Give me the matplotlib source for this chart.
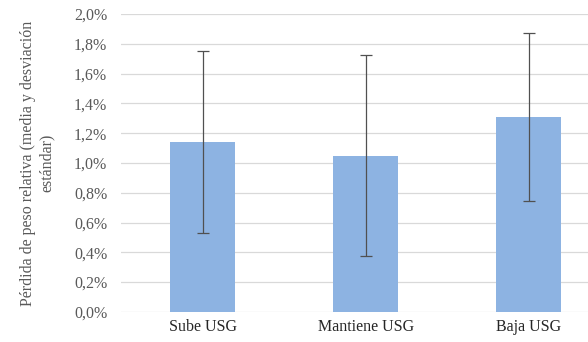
import matplotlib
matplotlib.use("Agg")
import matplotlib.pyplot as plt
from matplotlib.ticker import FuncFormatter, MultipleLocator

# ─── DATA (percent) ──────────────────────────────────────────────────────────
categories = ["Sube USG", "Mantiene USG", "Baja USG"]
means = [1.14, 1.05, 1.31]
sds = [0.61, 0.675, 0.565]

BAR = "#8DB3E2"
GRID = "#D9D9D9"
TEXT = "#595959"

plt.rcParams["font.family"] = ["Liberation Serif", "DejaVu Serif"]

fig = plt.figure(figsize=(5.88, 3.42), dpi=100)
ax = fig.add_axes([0.206, 0.088, 0.794, 0.871])

x = list(range(len(categories)))
ax.bar(x, means, width=0.4, color=BAR, zorder=3)
ax.errorbar(x, means, yerr=sds, fmt="none", ecolor="#505050",
            elinewidth=0.9, capsize=4, capthick=0.9, zorder=4)

ax.set_xlim(-0.5, 2.365)
ax.set_ylim(0, 2.0)
ax.yaxis.set_major_locator(MultipleLocator(0.2))
ax.yaxis.set_major_formatter(
    FuncFormatter(lambda v, _: f"{v:.1f}%".replace(".", ",")))
ax.yaxis.grid(True, color=GRID, linewidth=0.9, zorder=0)
ax.set_axisbelow(True)

ax.set_xticks(x)
ax.set_xticklabels(categories, fontsize=11.5, color="#262626")
ax.tick_params(axis="y", labelsize=11.5, colors=TEXT, length=0, pad=10)
ax.tick_params(axis="x", length=0, pad=5)
for s in ax.spines.values():
    s.set_visible(False)

ax.set_ylabel("Pérdida de peso relativa (media y desviación\nestándar)",
              fontsize=11.5, color=TEXT, linespacing=1.25, labelpad=14)

plt.savefig("out.png", dpi=100)
